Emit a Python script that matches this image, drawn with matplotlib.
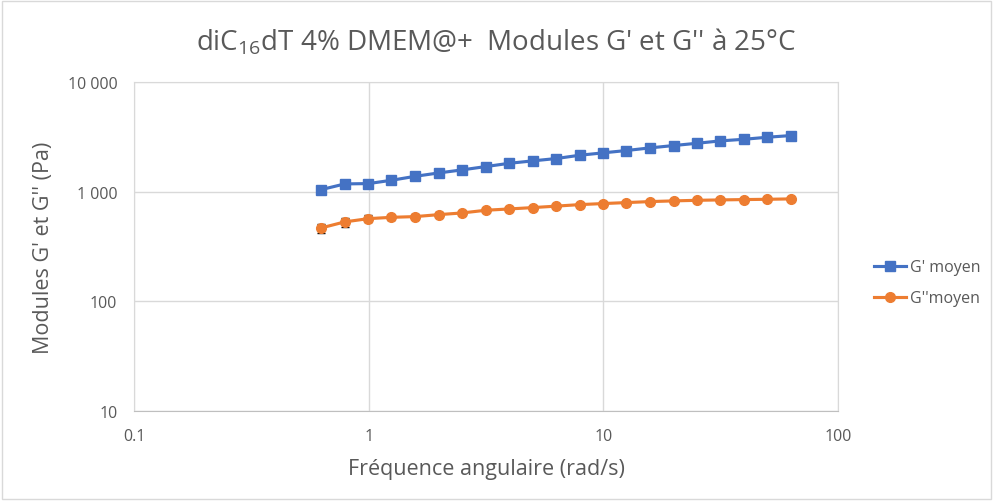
import numpy as np
import matplotlib.pyplot as plt
from matplotlib.ticker import FuncFormatter, FixedLocator, NullLocator
from matplotlib.patches import Rectangle

plt.rcParams['font.family'] = ['Open Sans', 'DejaVu Sans']
plt.rcParams['mathtext.default'] = 'regular'

# angular frequency (rad/s)
freq = [0.628, 0.791, 0.996, 1.25, 1.58, 1.99, 2.5, 3.15, 3.97, 5.0,
        6.28, 7.91, 9.96, 12.5, 15.8, 19.9, 25.0, 31.5, 39.7, 50.0, 62.8]

# G' mean (Pa) and std
g1 = [1043, 1175, 1183, 1268, 1379, 1480, 1577, 1690, 1811, 1905,
      2000, 2143, 2254, 2366, 2502, 2627, 2755, 2897, 2997, 3128, 3239]
g1_err = [90, 90, 70, 60, 60, 60, 60, 60, 60, 60,
          60, 60, 60, 60, 60, 60, 60, 60, 60, 60, 60]

# G'' mean (Pa) and std
g2 = [467, 530, 567, 583, 592, 617, 639, 676, 695, 715,
      737, 761, 778, 794, 811, 823, 833, 840, 846, 851, 858]
g2_err = [45, 50, 40, 35, 35, 35, 30, 30, 30, 25,
          20, 20, 20, 20, 20, 20, 20, 20, 20, 20, 20]

text_col = '#595959'
grid_col = '#d9d9d9'

fig = plt.figure(figsize=(9.93, 5.02), dpi=100)
ax = fig.add_axes([0.135, 0.179, 0.709, 0.656])

eb1 = ax.errorbar(freq, g1, yerr=g1_err, color='#4472C4', lw=2.25, marker='s', ms=7,
                  ecolor='black', elinewidth=1, capsize=3, label="G' moyen", zorder=3)
eb2 = ax.errorbar(freq, g2, yerr=g2_err, color='#ED7D31', lw=2.25, marker='o', ms=7,
                  ecolor='black', elinewidth=1, capsize=3, label="G''moyen", zorder=3)

ax.set_xscale('log')
ax.set_yscale('log')
ax.set_xlim(0.1, 100)
ax.set_ylim(10, 10000)

ax.xaxis.set_major_locator(FixedLocator([0.1, 1, 10, 100]))
ax.yaxis.set_major_locator(FixedLocator([10, 100, 1000, 10000]))
ax.xaxis.set_minor_locator(NullLocator())
ax.yaxis.set_minor_locator(NullLocator())
ax.xaxis.set_major_formatter(FuncFormatter(lambda v, p: f"{v:g}"))
ax.yaxis.set_major_formatter(FuncFormatter(lambda v, p: f"{int(v):,}".replace(',', ' ')))

ax.grid(True, color=grid_col, lw=1)
ax.set_axisbelow(True)
for s in ax.spines.values():
    s.set_color(grid_col)
ax.spines['bottom'].set_color('#bfbfbf')
ax.tick_params(length=0, labelsize=11.5, colors=text_col, pad=12)

ax.set_xlabel('Fréquence angulaire (rad/s)', fontsize=15.5, color=text_col, labelpad=10)
ax.set_ylabel("Modules G' et G'' (Pa)", fontsize=15.5, color=text_col, labelpad=10)
fig.text(0.5, 0.915, "diC$_{16}$dT 4% DMEM@+  Modules G' et G'' à 25°C",
         ha='center', va='center', fontsize=20, color=text_col)

leg = ax.legend(handles=[eb1[0], eb2[0]], labels=["G' moyen", "G''moyen"],
                loc='center left', bbox_to_anchor=(1.03, 0.39), frameon=False,
                fontsize=11.5, handlelength=2.0, labelspacing=0.95, handletextpad=0.3)
for t in leg.get_texts():
    t.set_color(text_col)

fig.patches.append(Rectangle((0.002, 0.003), 0.996, 0.994, transform=fig.transFigure,
                             fill=False, edgecolor=grid_col, lw=1))

fig.savefig('out.png', dpi=100)
